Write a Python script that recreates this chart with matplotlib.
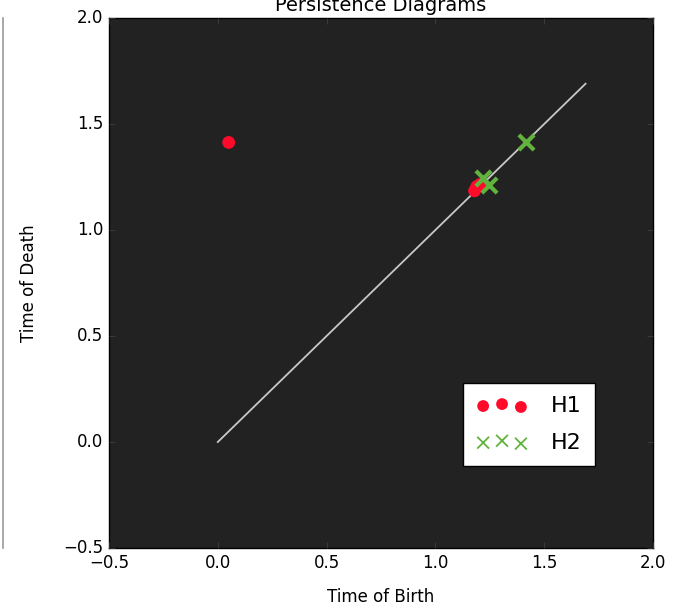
import matplotlib
matplotlib.use("Agg")
import matplotlib.pyplot as plt
from matplotlib.lines import Line2D

plt.style.use('classic')
plt.rcParams['font.family'] = ['DejaVu Sans']

# Data
h1_birth = [0.05, 1.18, 1.205, 1.19]
h1_death = [1.413, 1.185, 1.215, 1.205]
h2_birth = [1.22, 1.245, 1.415]
h2_death = [1.245, 1.212, 1.415]
diag_max = 1.69

red = '#ff0a2a'
green = '#62b33e'

fig = plt.figure(figsize=(6.74, 6.08), dpi=100, facecolor='white')
ax = fig.add_axes([109/674, 1-548/608, (653-109)/674, (548-18)/608])
ax.set_facecolor('#222222')

ax.plot([0, diag_max], [0, diag_max], color='#c8c8c8', lw=1.3, zorder=1)
ax.scatter(h1_birth, h1_death, s=85, c=red, edgecolors='none', zorder=3)
ax.scatter(h2_birth, h2_death, s=120, c=green, marker='x', linewidths=3, zorder=4)

# legend proxies
hh1 = ax.scatter([], [], s=72, c=red, edgecolors='none', label='H1')
hh2 = ax.scatter([], [], s=72, c=green, marker='x', linewidths=1.3, label='H2')
leg = ax.legend(handles=[hh1, hh2], loc='lower left', bbox_to_anchor=(0.651, 0.155),
                scatterpoints=3, scatteryoffsets=[0.375, 0.5, 0.3125],
                fontsize=16, frameon=True, fancybox=False, borderaxespad=0,
                handlelength=2.3, borderpad=0.6, handletextpad=1.05,
                labelspacing=0.75)
leg.get_frame().set_facecolor('white')
leg.get_frame().set_edgecolor('black')

ax.set_xlim(-0.5, 2.0)
ax.set_ylim(-0.5, 2.0)
ax.set_xticks([-0.5, 0.0, 0.5, 1.0, 1.5, 2.0])
ax.set_yticks([-0.5, 0.0, 0.5, 1.0, 1.5, 2.0])
ax.tick_params(labelsize=12, direction='in', top=True, right=True, color='#444444')
ax.set_xlabel('Time of Birth', fontsize=12, labelpad=12)
ax.set_ylabel('Time of Death', fontsize=12, labelpad=18)
ax.set_title('Persistence Diagrams', fontsize=14)

fig.add_artist(Line2D([2.5/674, 2.5/674], [1-548/608, 1-18/608], color='#999999', lw=1.2))

fig.savefig('out.png', dpi=100, facecolor='white')
